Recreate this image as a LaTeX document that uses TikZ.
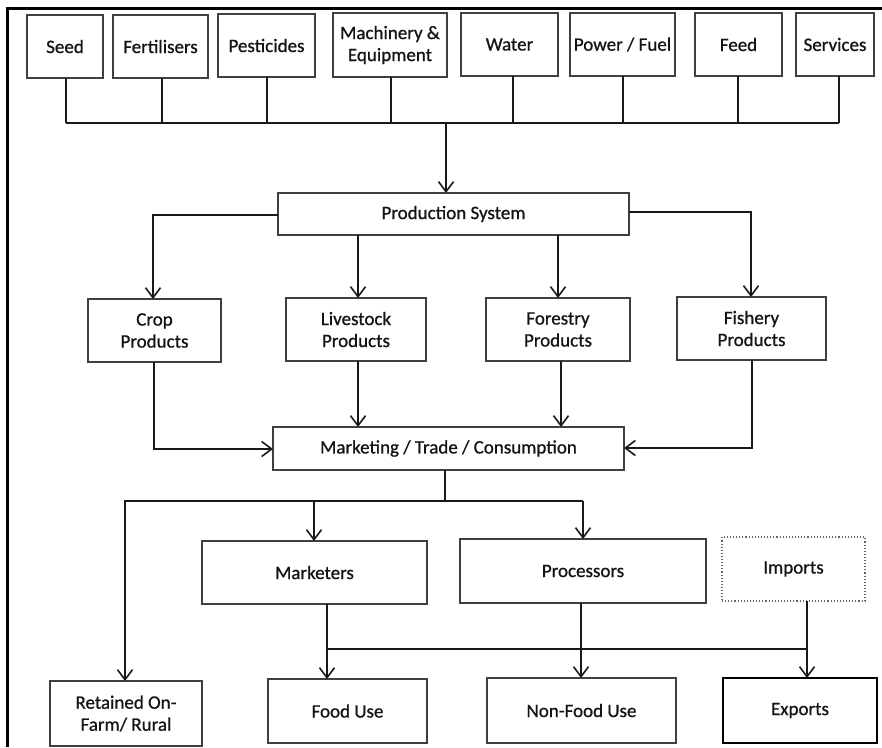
\documentclass[tikz,border=0pt]{standalone}
\usepackage{fontspec}
\setmainfont{Carlito}
\newfontfamily\diagfont{Carlito}[FakeBold=0.8]
\usetikzlibrary{arrows.meta}
\begin{document}
\begin{tikzpicture}[x=1pt,y=-1pt,
  box/.style={draw=black!75, line width=1.1pt, inner sep=0pt, outer sep=0pt, align=center,
    text=black!92, font=\diagfont\fontsize{19}{22}\selectfont},
  conn/.style={draw=black!90, line width=1.8pt},
  arr/.style={conn, -{Straight Barb[length=10pt,width=15pt,line width=1.6pt]}},
]
\useasboundingbox (0,0) rectangle (882,747);
\fill[white] (0,0) rectangle (882,747);
% frame (left and top)
\draw[line width=3pt] (7.5,747) -- (7.5,8) -- (882,8);

% top inputs
\node[box, minimum width=76pt, minimum height=63pt] (seed) at (65,46.5) {Seed};
\node[box, minimum width=95pt, minimum height=63pt] (fert) at (160.5,46.5) {Fertilisers};
\node[box, minimum width=97pt, minimum height=63pt] (pest) at (266.5,45.5) {Pesticides};
\node[box, minimum width=114pt, minimum height=64pt] (mach) at (390,45) {Machinery \&\\Equipment};
\node[box, minimum width=97pt, minimum height=63pt] (water) at (509.5,44.5) {Water};
\node[box, minimum width=105pt, minimum height=63pt] (power) at (622.5,44.5) {Power / Fuel};
\node[box, minimum width=87pt, minimum height=63pt] (feed) at (738.5,44.5) {Feed};
\node[box, minimum width=78pt, minimum height=63pt] (serv) at (835,44.5) {Services};

% production
\node[box, minimum width=351pt, minimum height=42pt] (prod) at (453.5,214) {Production System};
\node[box, minimum width=133pt, minimum height=63pt] (crop) at (154.5,330.5) {Crop\\Products};
\node[box, minimum width=140pt, minimum height=63pt] (live) at (356,329.5) {Livestock\\Products};
\node[box, minimum width=144pt, minimum height=63pt] (forest) at (558,329.5) {Forestry\\Products};
\node[box, minimum width=149pt, minimum height=63pt] (fish) at (751.5,328.5) {Fishery\\Products};
\node[box, minimum width=351pt, minimum height=43pt] (mkt) at (448.5,448.5) {Marketing / Trade / Consumption};

\node[box, minimum width=225pt, minimum height=63pt] (marketers) at (314.5,572.5) {Marketers};
\node[box, minimum width=246pt, minimum height=64pt] (proc) at (583,571) {Processors};
\node[box, draw=black!60, dotted, line width=1.1pt, minimum width=143pt, minimum height=64pt] (imp) at (793.5,569) {Imports};

\node[box, minimum width=152pt, minimum height=65pt] (ret) at (126,713.5) {Retained On-\\Farm/ Rural};
\node[box, minimum width=159pt, minimum height=64pt] (food) at (347.5,711) {Food Use};
\node[box, minimum width=189pt, minimum height=65pt] (nonfood) at (581.5,710.5) {Non-Food Use};
\node[box, draw=black, line width=1.8pt, minimum width=154pt, minimum height=65pt] (exp) at (800,710.5) {Exports};

% input bus
\coordinate (busL) at (66,123);
\coordinate (busR) at (839,123);
\draw[conn] (busL) -- (busR);
\foreach \n/\x in {seed/66,fert/162,pest/267,mach/391,water/513,power/623,feed/738,serv/839}{
  \draw[conn] (\x,0 |- \n.south) -- (\x,123);
}
\coordinate (busM) at (446,123);
\draw[arr] (busM) -- (busM |- prod.north);

% production to products
\coordinate (pL) at (153,215);
\draw[arr] (prod.west |- pL) -- (pL) -- (pL |- crop.north);
\coordinate (pLive) at (358,0);
\draw[arr] (pLive |- prod.south) -- (pLive |- live.north);
\coordinate (pFor) at (558,0);
\draw[arr] (pFor |- prod.south) -- (pFor |- forest.north);
\coordinate (pR) at (751,212);
\draw[arr] (prod.east |- pR) -- (pR) -- (pR |- fish.north);

% products to marketing
\coordinate (cB) at (154,449);
\draw[arr] (cB |- crop.south) -- (cB) -- (cB -| mkt.west);
\draw[arr] (pLive |- live.south) -- (pLive |- mkt.north);
\coordinate (fB) at (561,0);
\draw[arr] (fB |- forest.south) -- (fB |- mkt.north);
\coordinate (fiB) at (752,448);
\draw[arr] (fiB |- fish.south) -- (fiB) -- (fiB -| mkt.east);

% marketing to distribution
\coordinate (mJ) at (445,501);
\coordinate (dL) at (125,501);
\coordinate (dR) at (583,501);
\coordinate (dM) at (314,501);
\draw[conn] (mJ |- mkt.south) -- (mJ);
\draw[arr] (dM) -- (dM |- marketers.north);
\draw[arr] (dR) -- (dR |- proc.north);
\draw[arr] (mJ) -- (dL) -- (dL |- ret.north);
\draw[conn] (mJ) -- (dR);

% to end uses
\coordinate (eL) at (327,649);
\coordinate (eR) at (807,649);
\draw[conn] (eL |- marketers.south) -- (eL);
\draw[arr] (eL) -- (eL |- food.north);
\draw[conn] (eL) -- (eR);
\coordinate (eM) at (581,0);
\draw[arr] (eM |- proc.south) -- (eM |- nonfood.north);
\draw[arr] (eR |- imp.south) -- (eR |- exp.north);
\end{tikzpicture}
\end{document}
